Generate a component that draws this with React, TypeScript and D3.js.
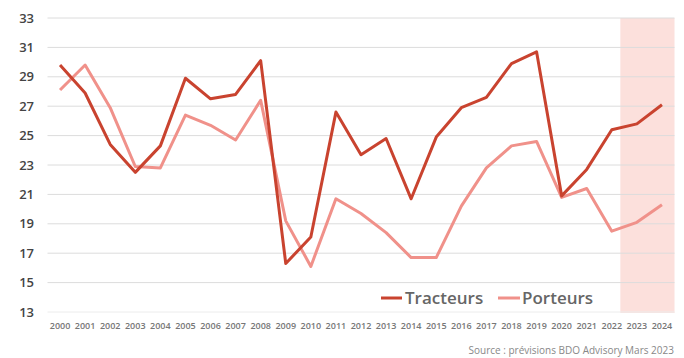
import React from "react";
import * as d3 from "d3";

const years = ["2000","2001","2002","2003","2004","2005","2006","2007","2008","2009","2010","2011","2012","2013","2014","2015","2016","2017","2018","2019","2020","2021","2022","2023","2024"];
const tracteurs = [29.8,27.9,24.4,22.5,24.3,28.9,27.5,27.8,30.1,16.3,18.1,26.6,23.7,24.8,20.7,24.9,26.9,27.6,29.9,30.7,20.9,22.7,25.4,25.8,27.1];
const porteurs = [28.1,29.8,26.9,22.9,22.8,26.4,25.7,24.7,27.4,19.2,16.1,20.7,19.7,18.4,16.7,16.7,20.2,22.8,24.3,24.6,20.8,21.4,18.5,19.1,20.3];
const yTicks = [13,15,17,19,21,23,25,27,29,31,33];
const forecastYears = ["2023","2024"];
const seriesNames = ["Tracteurs","Porteurs"];
const colors = ["#C9432F","#F0918A"];

export default function App() {
  const W = 684, H = 358;
  const x = d3.scaleBand<string>().domain(years).range([47.5, 674.5]);
  const xc = (d: string) => (x(d) as number) + x.bandwidth() / 2;
  const y = d3.scaleLinear().domain([13, 33]).range([312, 18]);
  const line = d3.line<number>().x((_, i) => xc(years[i])).y(d => y(d));
  const fx0 = x(forecastYears[0]) as number - 4;
  const fx1 = (x(forecastYears[forecastYears.length - 1]) as number) + x.bandwidth();
  return (
    <svg width={W} height={H} style={{ position: "absolute", left: 0, top: 0, background: "#fff" }}
      fontFamily="'Open Sans', 'Noto Sans', sans-serif">
      <rect x={fx0} y={y(33)} width={fx1 - fx0} height={y(13) - y(33) + 1} fill="#FCE0DC" />
      {yTicks.map(t => (
        <g key={t}>
          <line x1={47.5} x2={674.5} y1={y(t)} y2={y(t)} stroke={t === 13 ? "#ececec" : "#dcdcdc"} strokeWidth={1} />
          <text x={34} y={y(t)} dy="0.35em" textAnchor="end" fontSize={13} fontWeight={600} fill="#444">{t}</text>
        </g>
      ))}
      {years.map(yr => (
        <text key={yr} x={xc(yr)} y={329} textAnchor="middle" fontSize={9} fontWeight={600} fill="#777">{yr}</text>
      ))}
      <path d={line(porteurs) || ""} fill="none" stroke={colors[1]} strokeWidth={3} strokeLinejoin="round" />
      <path d={line(tracteurs) || ""} fill="none" stroke={colors[0]} strokeWidth={3} strokeLinejoin="round" />
      <g>
        <line x1={381} x2={402} y1={298} y2={298} stroke={colors[0]} strokeWidth={3} />
        <text x={405} y={298} dy="0.35em" fontSize={17} fontWeight={600} fill="#666">{seriesNames[0]}</text>
        <line x1={498} x2={520} y1={298} y2={298} stroke={colors[1]} strokeWidth={3} />
        <text x={522} y={298} dy="0.35em" fontSize={17} fontWeight={600} fill="#666">{seriesNames[1]}</text>
      </g>
      <text x={674} y={354} textAnchor="end" fontSize={10} fill="#888">Source : prévisions BDO Advisory Mars 2023</text>
    </svg>
  );
}
